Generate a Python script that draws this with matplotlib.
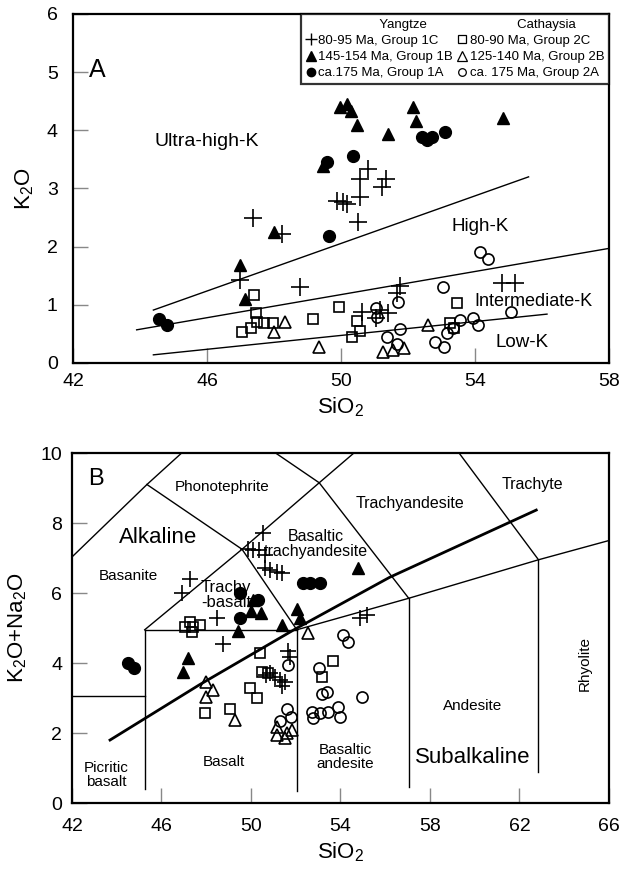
import matplotlib
matplotlib.use('Agg')
import matplotlib.pyplot as plt
from matplotlib.lines import Line2D

plt.rcParams['font.family'] = ['Liberation Sans', 'DejaVu Sans']
plt.rcParams['mathtext.fontset'] = 'custom'
plt.rcParams['mathtext.rm'] = 'Liberation Sans'
plt.rcParams['mathtext.it'] = 'Liberation Sans'

# ---- Panel A: SiO2 vs K2O ----
# Yangtze 80-95 Ma, group 1C
a1c_x = [50.81, 50.57, 51.34, 51.22, 50.57, 49.88, 50.06, 50.18, 50.51, 47.37, 48.24, 46.99, 48.78,
         51.76, 51.67, 54.81, 55.19, 50.63, 51.16, 51.40, 51.04]
a1c_y = [3.33, 3.17, 3.17, 3.03, 2.86, 2.78, 2.76, 2.74, 2.43, 2.50, 2.22, 1.43, 1.31,
         1.33, 1.21, 1.38, 1.38, 0.88, 0.91, 0.86, 0.78]
# Yangtze 145-154 Ma, group 1B
a1b_x = [49.97, 50.18, 50.30, 50.48, 52.15, 52.24, 51.40, 54.84, 49.46, 46.99, 47.13, 48.00]
a1b_y = [4.40, 4.45, 4.33, 4.10, 4.40, 4.16, 3.93, 4.22, 3.38, 1.69, 1.10, 2.26]
# Yangtze ca.175 Ma, group 1A
a1a_x = [49.58, 50.36, 52.42, 52.57, 52.72, 53.10, 49.64, 44.57, 44.81]
a1a_y = [3.45, 3.55, 3.88, 3.84, 3.88, 3.97, 2.19, 0.76, 0.66]
# Cathaysia 80-90 Ma, group 2C
a2c_x = [47.40, 47.46, 47.49, 47.70, 47.97, 47.04, 47.31, 49.16, 49.94, 50.48, 50.57, 50.33,
         53.46, 53.25, 53.37]
a2c_y = [1.17, 0.86, 0.71, 0.69, 0.69, 0.53, 0.60, 0.76, 0.97, 0.72, 0.55, 0.45,
         1.03, 0.69, 0.60]
# Cathaysia 125-140 Ma, group 2B
a2b_x = [48.00, 48.33, 49.34, 51.25, 51.55, 51.88, 52.60]
a2b_y = [0.53, 0.71, 0.28, 0.19, 0.22, 0.26, 0.66]
# Cathaysia ca. 175 Ma, group 2A
a2a_x = [54.15, 54.39, 53.04, 51.70, 51.04, 51.07, 51.76, 51.37, 51.67, 52.81, 53.07, 53.16,
         53.34, 53.55, 53.94, 54.09, 55.07]
a2a_y = [1.90, 1.79, 1.31, 1.05, 0.95, 0.79, 0.59, 0.45, 0.33, 0.36, 0.28, 0.52,
         0.60, 0.74, 0.78, 0.66, 0.88]

# K-series boundaries
kline_uhk_x = [44.4, 55.6]
kline_uhk_y = [0.91, 3.20]
kline_hk_x = [43.9, 58.0]
kline_hk_y = [0.57, 1.97]
kline_lk_x = [44.4, 56.15]
kline_lk_y = [0.14, 0.84]

# ---- Panel B: TAS ----
b1c_x = [50.53, 49.86, 50.08, 50.35, 50.62, 50.62, 50.84, 51.15, 51.38, 47.27, 46.91, 48.47,
         48.74, 51.64, 51.73, 50.84, 51.06, 51.29, 51.51, 51.38, 50.66, 54.86, 55.17]
b1c_y = [7.71, 7.26, 7.23, 7.23, 7.09, 6.71, 6.66, 6.60, 6.57, 6.40, 6.00, 5.29,
         4.54, 4.34, 4.17, 3.71, 3.60, 3.51, 3.46, 3.34, 3.66, 5.29, 5.37]
b1b_x = [50.08, 49.99, 50.44, 49.41, 51.38, 52.04, 52.18, 54.77, 47.18, 46.96]
b1b_y = [5.80, 5.49, 5.43, 4.91, 5.09, 5.54, 5.29, 6.71, 4.14, 3.74]
b1a_x = [49.50, 50.30, 49.50, 52.31, 52.63, 53.07, 44.50, 44.77]
b1a_y = [6.00, 5.80, 5.29, 6.29, 6.29, 6.29, 4.00, 3.86]
b2c_x = [47.04, 47.27, 47.40, 47.71, 47.36, 50.39, 50.48, 50.75, 49.95, 50.26, 47.94, 49.05,
         53.16, 53.65]
b2c_y = [5.03, 5.17, 5.03, 5.09, 4.89, 4.29, 3.74, 3.71, 3.29, 3.00, 2.57, 2.69,
         3.60, 4.06]
b2b_x = [52.54, 47.98, 48.29, 47.98, 49.28, 51.15, 51.60, 51.15, 51.82, 51.51]
b2b_y = [4.86, 3.46, 3.23, 3.03, 2.37, 2.17, 2.00, 1.94, 2.09, 1.86]
b2a_x = [54.10, 54.32, 51.64, 53.03, 53.16, 53.38, 54.95, 51.60, 51.78, 51.29, 52.71, 52.76,
         53.07, 53.43, 53.88, 53.96]
b2a_y = [4.80, 4.60, 3.94, 3.86, 3.11, 3.17, 3.03, 2.69, 2.46, 2.34, 2.60, 2.43,
         2.57, 2.60, 2.74, 2.46]

# TAS field boundaries (polylines)
tas_lines = [
    ([42.0, 45.25], [3.05, 3.05]),
    ([45.25, 45.25], [0.4, 4.95]),
    ([45.25, 52.05], [4.95, 4.95]),
    ([52.05, 52.05], [0.35, 4.95]),
    ([45.25, 49.6], [4.95, 7.25]),
    ([49.6, 52.05], [7.25, 4.95]),
    ([49.6, 53.05, 54.6], [7.25, 9.15, 10.0]),
    ([42.0, 45.35, 46.9], [7.03, 9.1, 10.0]),
    ([45.35, 49.6], [9.1, 7.25]),
    ([51.1, 53.05, 57.05], [10.0, 9.15, 5.85]),
    ([57.05, 57.05], [0.45, 5.85]),
    ([52.05, 57.05, 62.85, 66.0], [4.95, 5.85, 6.95, 7.5]),
    ([59.3, 62.85], [10.0, 6.95]),
    ([62.85, 62.85], [0.9, 6.95]),
]
# alkaline / subalkaline divide
ib_x = [43.7, 47.7, 52.0, 56.2, 62.75]
ib_y = [1.8, 3.38, 4.98, 6.45, 8.37]

fig = plt.figure(figsize=(6.26, 8.69), dpi=100)
axA = fig.add_axes([0.1166, 0.5823, 0.8562, 0.4016])
axB = fig.add_axes([0.1150, 0.0759, 0.8578, 0.4028])


def draw_groups(ax, d, plus_ms):
    ax.plot(d[0], d[1], '+', color='k', ms=plus_ms, mew=1.2, ls='none')
    ax.plot(d[2], d[3], '^', color='k', ms=9, ls='none')
    ax.plot(d[4], d[5], 'o', color='k', ms=8.5, ls='none')
    ax.plot(d[6], d[7], 's', mfc='none', mec='k', ms=7.5, mew=1.2, ls='none')
    ax.plot(d[8], d[9], '^', mfc='none', mec='k', ms=9, mew=1.2, ls='none')
    ax.plot(d[10], d[11], 'o', mfc='none', mec='k', ms=8, mew=1.2, ls='none')


def style_axes(ax, xpad, ypad):
    for s in ax.spines.values():
        s.set_linewidth(1.6)
    ax.tick_params(direction='in', length=11, width=1, color='#888888',
                   labelsize=14, top=False, right=False)
    ax.tick_params(axis='x', pad=xpad)
    ax.tick_params(axis='y', pad=ypad)


# panel A
axA.plot(kline_uhk_x, kline_uhk_y, color='k', lw=1)
axA.plot(kline_hk_x, kline_hk_y, color='k', lw=1)
axA.plot(kline_lk_x, kline_lk_y, color='k', lw=1)
draw_groups(axA, [a1c_x, a1c_y, a1b_x, a1b_y, a1a_x, a1a_y,
                  a2c_x, a2c_y, a2b_x, a2b_y, a2a_x, a2a_y], 13)
axA.set_xlim(42, 58)
axA.set_ylim(0, 6)
axA.set_xticks([42, 46, 50, 54, 58])
axA.set_yticks(range(0, 7))
style_axes(axA, 7, 11)
axA.set_xlabel(r'SiO$_2$', fontsize=16, labelpad=4)
axA.set_ylabel(r'K$_2$O', fontsize=16, labelpad=8)
axA.text(0.03, 0.84, 'A', transform=axA.transAxes, fontsize=18, va='center')
axA.text(46.0, 3.8, 'Ultra-high-K', fontsize=14, ha='center', va='center')
axA.text(54.15, 2.35, 'High-K', fontsize=13.5, ha='center', va='center')
axA.text(55.75, 1.05, 'Intermediate-K', fontsize=13, ha='center', va='center')
axA.text(55.4, 0.35, 'Low-K', fontsize=13.5, ha='center', va='center')

blank = Line2D([], [], ls='none', marker='')
handles = [
    blank,
    Line2D([], [], ls='none', marker='+', color='k', ms=8.5, mew=1),
    Line2D([], [], ls='none', marker='^', color='k', ms=6.5),
    Line2D([], [], ls='none', marker='o', color='k', ms=6),
    blank,
    Line2D([], [], ls='none', marker='s', mfc='none', mec='k', ms=5.5, mew=0.9),
    Line2D([], [], ls='none', marker='^', mfc='none', mec='k', ms=6.5, mew=0.9),
    Line2D([], [], ls='none', marker='o', mfc='none', mec='k', ms=5.5, mew=0.9),
]
labels = ['                 Yangtze', '80-95 Ma, Group 1C', '145-154 Ma, Group 1B', 'ca.175 Ma, Group 1A',
          '             Cathaysia', '80-90 Ma, Group 2C', '125-140 Ma, Group 2B', 'ca. 175 Ma, Group 2A']
leg = axA.legend(handles, labels, ncol=2, loc='upper right', fontsize=9.5, frameon=True,
                 fancybox=False, borderaxespad=0, handlelength=0.7, handletextpad=0.25,
                 columnspacing=0.3, labelspacing=0.3, borderpad=0.35)
leg.get_frame().set_edgecolor('k')
leg.get_frame().set_linewidth(1.6)

# panel B
for lx, ly in tas_lines:
    axB.plot(lx, ly, color='k', lw=1)
axB.plot(ib_x, ib_y, color='k', lw=2)
draw_groups(axB, [b1c_x, b1c_y, b1b_x, b1b_y, b1a_x, b1a_y,
                  b2c_x, b2c_y, b2b_x, b2b_y, b2a_x, b2a_y], 11)
axB.set_xlim(42, 66)
axB.set_ylim(0, 10)
axB.set_xticks(range(42, 67, 4))
axB.set_yticks(range(0, 11, 2))
style_axes(axB, 11, 7)
axB.set_xlabel(r'SiO$_2$', fontsize=16, labelpad=4)
axB.set_ylabel(r'K$_2$O+Na$_2$O', fontsize=16, labelpad=8)
axB.text(0.03, 0.925, 'B', transform=axB.transAxes, fontsize=17, va='center')

tas_labels = [
    (48.7, 9.03, 'Phonotephrite', 11, 0),
    (45.84, 7.6, 'Alkaline', 16, 0),
    (44.5, 6.5, 'Basanite', 11, 0),
    (48.9, 5.95, 'Trachy\n-basalt', 12, 0),
    (52.9, 7.4, 'Basaltic\ntrachyandesite', 11.5, 0),
    (57.1, 8.57, 'Trachyandesite', 11.5, 0),
    (62.6, 9.09, 'Trachyte', 11.5, 0),
    (64.9, 4.0, 'Rhyolite', 11, 90),
    (59.9, 2.77, 'Andesite', 11, 0),
    (59.9, 1.31, 'Subalkaline', 16, 0),
    (54.2, 1.31, 'Basaltic\nandesite', 11, 0),
    (48.8, 1.17, 'Basalt', 11, 0),
    (43.55, 0.8, 'Picritic\nbasalt', 11, 0),
]
for tx, ty, s, fs, rot in tas_labels:
    axB.text(tx, ty, s, fontsize=fs, rotation=rot, ha='center', va='center', linespacing=1.0)

fig.savefig('out.png', dpi=100)
